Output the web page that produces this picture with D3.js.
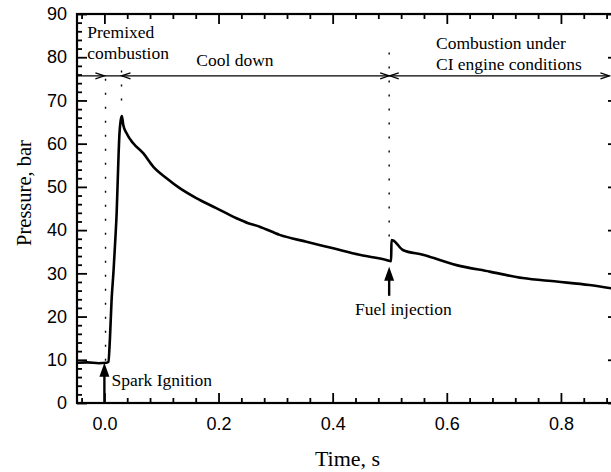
<!DOCTYPE html>
<html>
<head>
<meta charset="utf-8">
<script src="https://cdn.jsdelivr.net/npm/d3@7"></script>
<style>
    body { margin: 0; background: #fff; }
    svg { display: block; font-family: "Liberation Serif", "Times New Roman", serif; }
</style>
</head>
<body>
<svg id="chart" width="611" height="472"></svg>
<script>
// Data.
const time = [-0.048, -0.03, -0.01, 0.004, 0.007, 0.0096, 0.0126, 0.016, 0.019, 0.0215, 0.0235, 0.025, 0.0265, 0.0285,
    0.0306, 0.033, 0.0389, 0.0505, 0.068, 0.0855, 0.109, 0.132, 0.161, 0.196, 0.2315, 0.252, 0.272, 0.307,
    0.354, 0.401, 0.447, 0.494, 0.5025, 0.503, 0.506, 0.523, 0.558, 0.617, 0.675, 0.733, 0.792, 0.85, 0.89];
const pressure = [9.3, 9.4, 9.2, 9.3, 9.5, 14.6, 23.8, 30.5, 37.5, 44, 52, 58, 62.5, 65.3,
    66.4, 64.4, 62.4, 60.1, 57.8, 54.7, 52.0, 49.7, 47.4, 45.1, 42.75, 41.6, 40.8, 38.9,
    37.3, 35.8, 34.3, 33.1, 32.8, 37.7, 37.6, 35.4, 34.3, 31.9, 30.4, 28.9, 28.1, 27.3, 26.5];

const xMajor = [0, 0.2, 0.4, 0.6, 0.8];
const xMinor = [-0.04, 0.04, 0.08, 0.12, 0.16, 0.24, 0.28, 0.32, 0.36, 0.44, 0.48, 0.52, 0.56, 0.64, 0.68, 0.72, 0.76, 0.84, 0.88];
const yMajor = [0, 10, 20, 30, 40, 50, 60, 70, 80, 90];
const yMinor = d3.range(0, 90, 2).filter(v => v % 10 !== 0);

// Phase boundaries (dotted lines) and the dimension arrow.
const phases = [
    {t: 0.002, from: 9.8, to: 77.5},
    {t: 0.03, from: 70, to: 77},
    {t: 0.499, from: 38.5, to: 82}
];
const arrowLevel = 75.7;
const arrowHeads = [
    {t: 0.0, dir: 1},
    {t: 0.03, dir: -1},
    {t: 0.499, dir: 1},
    {t: 0.5, dir: -1},
    {t: 0.885, dir: 1}
];
const labels = [
    {lines: ['Premixed', 'combustion'], t: -0.03, p: 84.4},
    {lines: ['Cool down'], t: 0.161, p: 78},
    {lines: ['Combustion under', 'CI engine conditions'], t: 0.581, p: 81.9}
];
const spark = {t: 0, p0: 0, p1: 9.3, text: 'Spark Ignition'};
const fuel = {t: 0.499, p0: 24.8, p1: 31.5, text: 'Fuel injection'};

// Layout.
const svg = d3.select('#chart');
const M = {left: 77, top: 14, right: 618, bottom: 403};
const x = d3.scaleLinear().domain([-0.048, 0.9]).range([M.left, M.right]);
const y = d3.scaleLinear().domain([0, 90]).range([M.bottom, M.top]);
const FONT = 18;

// Axes, ticks pointing inward on all four sides.
const addAxis = (axis, tf, values, size, labelled) => {
    const g = svg.append('g')
        .attr('transform', tf)
        .call(axis.tickValues(values).tickSize(-size)
            .tickFormat(labelled ? axis.tickFormat() : ''));
    g.select('.domain').remove();
    g.selectAll('line').attr('stroke', '#000').attr('stroke-width', 1.8);
    g.selectAll('text').attr('font-size', FONT).attr('fill', '#000').attr('font-family', null);
    return g;
};
const bottom = d3.axisBottom(x).tickFormat(d3.format('.1f')).tickPadding(14);
const left = d3.axisLeft(y).tickFormat(d3.format('d')).tickPadding(10);
addAxis(bottom, `translate(0,${M.bottom})`, xMajor, 10, true);
addAxis(d3.axisBottom(x), `translate(0,${M.bottom})`, xMinor, 5, false);
addAxis(d3.axisTop(x), `translate(0,${M.top})`, xMajor, 10, false);
addAxis(d3.axisTop(x), `translate(0,${M.top})`, xMinor, 5, false);
addAxis(left, `translate(${M.left},0)`, yMajor, 10, true);
addAxis(d3.axisLeft(y), `translate(${M.left},0)`, yMinor, 5, false);
addAxis(d3.axisRight(y), `translate(${M.right},0)`, yMajor, 10, false);
addAxis(d3.axisRight(y), `translate(${M.right},0)`, yMinor, 5, false);

svg.append('rect')
    .attr('x', M.left).attr('y', M.top)
    .attr('width', M.right - M.left).attr('height', M.bottom - M.top)
    .attr('fill', 'none').attr('stroke', '#000').attr('stroke-width', 2.2);

// Axis titles.
svg.append('text')
    .attr('x', (M.left + M.right) / 2).attr('y', 466)
    .attr('text-anchor', 'middle').attr('font-size', 22)
    .text('Time, s');
svg.append('text')
    .attr('transform', 'translate(31,193) rotate(-90)')
    .attr('text-anchor', 'middle').attr('font-size', 20.5)
    .text('Pressure, bar');

// Dotted phase boundaries.
svg.append('g').selectAll('line').data(phases).join('line')
    .attr('x1', d => x(d.t)).attr('x2', d => x(d.t))
    .attr('y1', d => y(d.from)).attr('y2', d => y(d.to))
    .attr('stroke', '#000').attr('stroke-width', 1.4)
    .attr('stroke-dasharray', '2,12');

// Dimension line with open arrowheads.
svg.append('line')
    .attr('x1', M.left).attr('x2', x(0.885))
    .attr('y1', y(arrowLevel)).attr('y2', y(arrowLevel))
    .attr('stroke', '#000').attr('stroke-width', 1.2);
svg.append('g').selectAll('path').data(arrowHeads).join('path')
    .attr('d', d => {
        const tx = x(d.t), ty = y(arrowLevel), bx = tx - d.dir * 9;
        return `M${bx},${ty - 3}L${tx},${ty}L${bx},${ty + 3}`;
    })
    .attr('fill', 'none').attr('stroke', '#000').attr('stroke-width', 1.2);

// Phase labels.
labels.forEach(l => {
    const t = svg.append('text')
        .attr('x', x(l.t)).attr('y', y(l.p))
        .attr('font-size', 17.5);
    t.selectAll('tspan').data(l.lines).join('tspan')
        .attr('x', x(l.t)).attr('dy', (d, i) => i ? 21 : 0)
        .text(d => d);
});

// Pressure trace.
const line = d3.line().x(d => x(d[0])).y(d => y(d[1])).curve(d3.curveMonotoneX);
svg.append('path')
    .datum(d3.zip(time, pressure))
    .attr('d', line)
    .attr('fill', 'none').attr('stroke', '#000')
    .attr('stroke-width', 2.6).attr('stroke-linejoin', 'round');

// Event arrows with filled heads.
const eventArrow = (e, tx, ty) => {
    const ax = x(e.t), top = y(e.p1), base = y(e.p0);
    svg.append('line')
        .attr('x1', ax).attr('x2', ax)
        .attr('y1', top + 10).attr('y2', base)
        .attr('stroke', '#000').attr('stroke-width', 2.4);
    svg.append('path')
        .attr('d', `M${ax},${top}L${ax - 5},${top + 14}L${ax + 5},${top + 14}Z`)
        .attr('fill', '#000');
    svg.append('text')
        .attr('x', tx).attr('y', ty)
        .attr('font-size', 17.5)
        .text(e.text);
};
eventArrow(spark, 111.5, 386);
eventArrow(fuel, 355, 315);
</script>
</body>
</html>
